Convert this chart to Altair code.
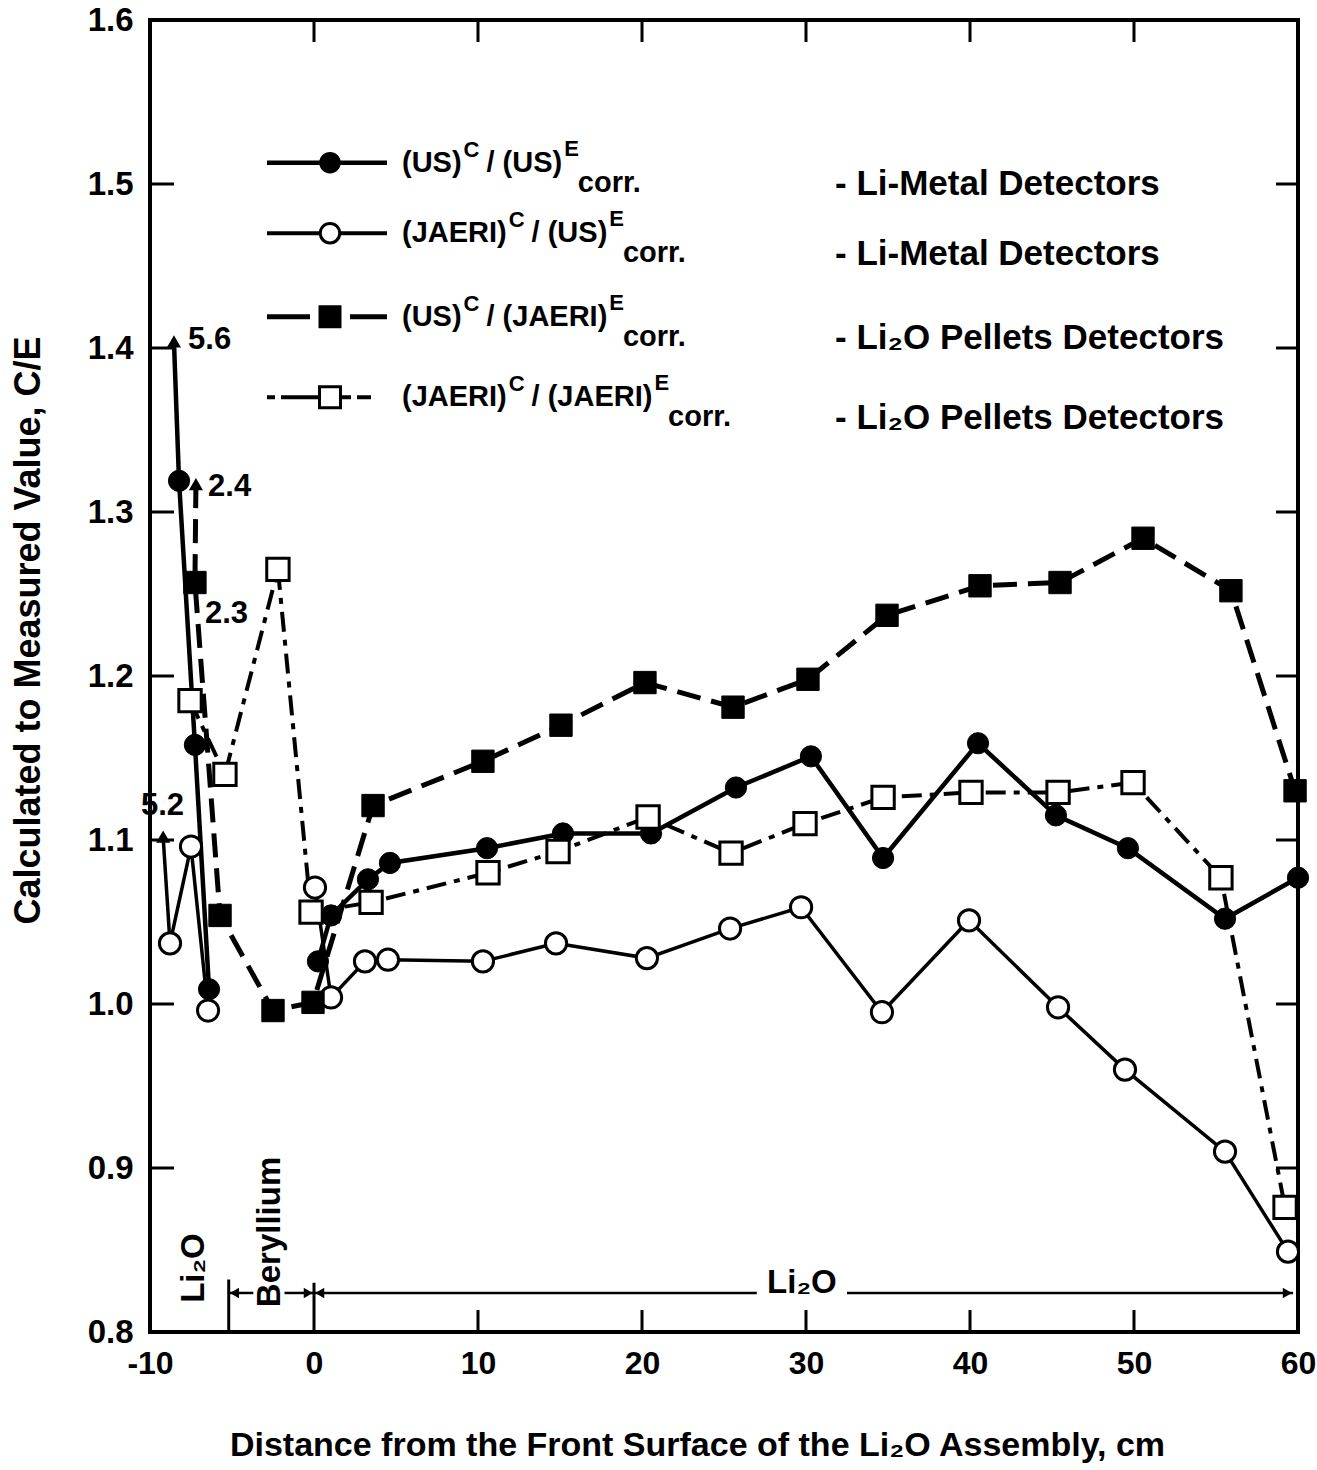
import altair as alt
import pandas as pd

# ---------------- values ----------------
X_TICKS = [-10, 0, 10, 20, 30, 40, 50, 60]
Y_TICKS = [0.8, 0.9, 1.0, 1.1, 1.2, 1.3, 1.4, 1.5, 1.6]
X_INNER_BOTTOM = [10, 20, 30, 40, 50]
X_INNER_TOP = [0, 10, 20, 30, 40, 50]
Y_INNER = [0.9, 1.0, 1.1, 1.2, 1.3, 1.4, 1.5]

# (US)C/(US)E corr. - Li-metal detectors : filled circles, solid
us_us_x = [-8.23, -7.26, -6.40, 0.24, 1.04, 3.29, 4.63, 10.55, 15.18, 20.55, 25.73,
           30.30, 34.70, 40.49, 45.24, 49.63, 55.55, 60.0]
us_us_y = [1.319, 1.158, 1.009, 1.026, 1.054, 1.076, 1.086, 1.095, 1.104, 1.104, 1.132,
           1.151, 1.089, 1.159, 1.115, 1.095, 1.052, 1.077]
# (JAERI)C/(US)E corr. - Li-metal detectors : open circles, solid
jaeri_us_x = [-8.78, -7.50, -6.46, 0.06, 1.04, 3.11, 4.51, 10.30, 14.76, 20.30, 25.37,
              29.70, 34.63, 39.94, 45.37, 49.45, 55.55, 59.39]
jaeri_us_y = [1.037, 1.096, 0.996, 1.071, 1.004, 1.026, 1.027, 1.026, 1.037, 1.028, 1.046,
              1.059, 0.995, 1.051, 0.998, 0.960, 0.910, 0.849]
# (US)C/(JAERI)E corr. - Li2O pellets : filled squares, dashed
us_jaeri_x = [-7.26, -5.73, -2.50, -0.06, 3.60, 10.30, 15.06, 20.18, 25.55, 30.12,
              34.94, 40.61, 45.49, 50.55, 55.91, 59.82]
us_jaeri_y = [1.257, 1.054, 0.996, 1.001, 1.121, 1.148, 1.170, 1.196, 1.181, 1.198,
              1.237, 1.255, 1.257, 1.284, 1.252, 1.130]
# (JAERI)C/(JAERI)E corr. - Li2O pellets : open squares, dash-dot
jaeri_jaeri_x = [-7.56, -5.43, -2.20, -0.18, 3.48, 10.61, 14.88, 20.37, 25.43, 29.94,
                 34.70, 40.06, 45.37, 49.94, 55.30, 59.21]
jaeri_jaeri_y = [1.185, 1.140, 1.265, 1.056, 1.062, 1.080, 1.093, 1.114, 1.092, 1.110,
                 1.126, 1.129, 1.129, 1.135, 1.077, 0.876]

# off-scale values shown as arrows (tip drawn at the clipped position)
off_series = ["us_us", "jaeri_us", "us_jaeri"]
off_value = ["5.6", "5.2", "2.4"]
off_tip_x = [-8.54, -9.20, -7.20]
off_tip_y = [1.404, 1.102, 1.317]
off_label_x = [-7.68, -10.55, -6.46]
off_label_y = [1.405, 1.121, 1.315]
extra_label = ["2.3"]
extra_label_x = [-6.65]
extra_label_y = [1.238]

# region annotations along the bottom
region_div_x = [-5.2, 0.0]
region_div_top = [0.832, 0.830]
region_arrow_y = 0.8238
region_seg_x1 = [-5.2, -1.8, 0.0, 32.5]
region_seg_x2 = [-3.7, 0.0, 27.0, 59.7]
region_head_x = [-4.85, -0.35, 0.35, 59.35]
region_head_shape = ["triangle-left", "triangle-right", "triangle-left", "triangle-right"]
region_text = ["Li₂O", "Beryllium", "Li₂O"]
region_text_x = [-7.3, -2.68, 29.75]
region_text_y = [0.839, 0.861, 0.830]
region_text_angle = [270, 270, 0]

# legend
legend_numer = ["(US)", "(JAERI)", "(US)", "(JAERI)"]
legend_denom = ["(US)", "(US)", "(JAERI)", "(JAERI)"]
legend_desc = ["- Li-Metal Detectors", "- Li-Metal Detectors",
               "- Li₂O Pellets Detectors", "- Li₂O Pellets Detectors"]
legend_y = [1.513, 1.470, 1.419, 1.370]

# ---------------- layout ----------------
W, H = 1148, 1312
LEFT = 150
XMIN, XMAX, YMIN, YMAX = -10, 60, 0.8, 1.6
PXX = W / (XMAX - XMIN)
PXY = H / (YMAX - YMIN)
FONT = "Liberation Sans, Arial, Helvetica, sans-serif"

xscale = alt.Scale(domain=[XMIN, XMAX], nice=False, zero=False)
yscale = alt.Scale(domain=[YMIN, YMAX], nice=False, zero=False)
xaxis = alt.Axis(values=X_TICKS, labelExpr="'' + datum.value", labelFont=FONT,
                 labelFontWeight="bold", labelFontSize=32, labelColor="black",
                 labelPadding=16, labelFlush=False, domain=False, ticks=False, grid=False,
                 title="Distance from the Front Surface of the Li₂O Assembly, cm",
                 titleFont=FONT, titleFontWeight="bold", titleFontSize=34,
                 titleColor="black", titleX=547, titleY=113, titleBaseline="middle")
yaxis = alt.Axis(values=Y_TICKS, format=".1f", labelFont=FONT, labelFontWeight="bold",
                 labelFontSize=33, labelColor="black", labelPadding=17, labelFlush=False,
                 domain=False, ticks=False, grid=False,
                 title="Calculated to Measured Value, C/E", titleFont=FONT,
                 titleFontWeight="bold", titleFontSize=36, titleColor="black",
                 titleAngle=270, titleX=-122, titleY=610, titleAlign="center",
                 titleBaseline="middle")
X = lambda f="x": alt.X(f"{f}:Q", scale=xscale, axis=xaxis)
Y = lambda f="y": alt.Y(f"{f}:Q", scale=yscale, axis=yaxis)

def series_df(xs, ys, key, gap):
    rows = []
    for i, (x, y) in enumerate(zip(xs, ys)):
        rows.append({"x": x, "y": y, "i": i, "seg": (0 if (gap and x < -5) else 1)})
    if key in off_series:
        k = off_series.index(key)
        rows.append({"x": off_tip_x[k], "y": off_tip_y[k], "i": -1, "seg": 0 if gap else 1})
    return pd.DataFrame(rows)

specs = [
    ("us_us", us_us_x, us_us_y, True, dict(strokeWidth=4.5), "circle", True),
    ("jaeri_us", jaeri_us_x, jaeri_us_y, True, dict(strokeWidth=3.5), "circle", False),
    ("us_jaeri", us_jaeri_x, us_jaeri_y, False, dict(strokeWidth=5, strokeDash=[24, 11]), "square", True),
    ("jaeri_jaeri", jaeri_jaeri_x, jaeri_jaeri_y, False, dict(strokeWidth=4, strokeDash=[20, 8, 6, 8]), "square", False),
]

layers = []
point_layers = []
for key, xs, ys, gap, style, shape, filled in specs:
    df = series_df(xs, ys, key, gap)
    layers.append(alt.Chart(df).mark_line(color="black", **style).encode(
        x=X(), y=Y(), detail="seg:N", order="i:Q"))
    pdf = pd.DataFrame({"x": xs, "y": ys})
    size = 450 if shape == "circle" else 500
    if filled:
        pm = alt.Chart(pdf).mark_point(shape=shape, filled=True, fill="black", stroke="black",
                                       strokeWidth=1, size=size, opacity=1)
    else:
        pm = alt.Chart(pdf).mark_point(shape=shape, filled=True, fill="white", stroke="black",
                                       strokeWidth=3, size=size, opacity=1)
    point_layers.append(pm.encode(x=X(), y=Y()))

# arrows for off-scale values
arr_df = pd.DataFrame({"x": off_tip_x, "y": off_tip_y})
arrows = alt.Chart(arr_df).mark_point(shape="triangle-up", filled=True, color="black",
                                      size=200, opacity=1).encode(x=X(), y=Y())
lab_df = pd.DataFrame({"x": off_label_x + extra_label_x, "y": off_label_y + extra_label_y,
                       "t": off_value + extra_label})
labels = alt.Chart(lab_df).mark_text(font=FONT, fontWeight="bold", fontSize=31, color="black",
                                     align="left", baseline="middle").encode(x=X(), y=Y(), text="t:N")

# inward ticks on all four sides
tb = alt.Chart(pd.DataFrame({"x": X_INNER_BOTTOM})).mark_rule(color="black", strokeWidth=3).encode(
    x=X(), y=alt.value(H), y2=alt.value(H - 22))
tt = alt.Chart(pd.DataFrame({"x": X_INNER_TOP})).mark_rule(color="black", strokeWidth=3).encode(
    x=X(), y=alt.value(0), y2=alt.value(22))
tl = alt.Chart(pd.DataFrame({"y": Y_INNER})).mark_rule(color="black", strokeWidth=3).encode(
    y=Y(), x=alt.value(0), x2=alt.value(24))
tr = alt.Chart(pd.DataFrame({"y": Y_INNER})).mark_rule(color="black", strokeWidth=3).encode(
    y=Y(), x=alt.value(W), x2=alt.value(W - 22))

# region annotations
div_df = pd.DataFrame({"x": region_div_x, "y": [YMIN] * 2, "y2": region_div_top})
divs = alt.Chart(div_df).mark_rule(color="black", strokeWidth=3).encode(
    x=X(), y=Y(), y2="y2:Q")
seg_df = pd.DataFrame({"x": region_seg_x1, "x2": region_seg_x2, "y": [region_arrow_y] * 4})
segs = alt.Chart(seg_df).mark_rule(color="black", strokeWidth=2.5).encode(
    x=X(), x2="x2:Q", y=Y())
head_df = pd.DataFrame({"x": region_head_x, "y": [region_arrow_y] * 4, "s": region_head_shape})
heads = alt.Chart(head_df).mark_point(filled=True, color="black", size=110, opacity=1).encode(
    x=X(), y=Y(), shape=alt.Shape("s:N", scale=None))
rt_df = pd.DataFrame({"x": region_text_x, "y": region_text_y, "t": region_text,
                      "a": region_text_angle})
rtexts = alt.Chart(rt_df).mark_text(font=FONT, fontWeight="bold", fontSize=33, color="black",
                                    align="center", baseline="middle").encode(
    x=X(), y=Y(), text="t:N", angle=alt.Angle("a:Q", scale=None))

# legend (fragments chained with Liberation Sans Bold glyph widths)
AB = {'(': 333, ')': 333, 'U': 722, 'S': 667, 'J': 556, 'A': 722, 'E': 667, 'R': 722,
      'I': 278, '/': 278, ' ': 278, 'C': 722, 'c': 556, 'o': 611, 'r': 389, '.': 278}
def tw(s, fs):
    return sum(AB.get(ch, 600) for ch in s) * fs / 1000.0

px2x = lambda px: XMIN + (px - LEFT) / PXX
FS_MAIN, FS_SUP, FS_SUB, FS_DESC = 29, 22, 29, 35
rows = []
for r in range(4):
    y0 = legend_y[r]
    px = 402
    rows.append({"x": px2x(px), "y": y0, "t": legend_numer[r], "fs": FS_MAIN, "f": "m"})
    px += tw(legend_numer[r], FS_MAIN) + 2
    rows.append({"x": px2x(px), "y": y0 + 13 / PXY, "t": "C", "fs": FS_SUP, "f": "m"})
    px += tw("C", FS_SUP) + 7
    s = "/ " + legend_denom[r]
    rows.append({"x": px2x(px), "y": y0, "t": s, "fs": FS_MAIN, "f": "m"})
    px += tw(s, FS_MAIN) + 2
    rows.append({"x": px2x(px), "y": y0 + 14 / PXY, "t": "E", "fs": FS_SUP, "f": "m"})
    px += tw("E", FS_SUP) - 1
    rows.append({"x": px2x(px), "y": y0 - 20 / PXY, "t": "corr.", "fs": FS_SUB, "f": "m"})
    rows.append({"x": px2x(835), "y": y0 - 21 / PXY, "t": legend_desc[r], "fs": FS_DESC, "f": "d"})
leg_df = pd.DataFrame(rows)
leg_text = alt.Chart(leg_df).mark_text(
    font=FONT, fontWeight="bold", color="black", align="left", baseline="middle").encode(
    x=X(), y=Y(), text="t:N", size=alt.Size("fs:Q", scale=None))

LX1, LX2, LXM = px2x(267), px2x(387), px2x(330)
leg_line_specs = [dict(strokeWidth=4.5), dict(strokeWidth=4),
                  dict(strokeWidth=5, strokeDash=[43, 40, 40]),
                  dict(strokeWidth=4, strokeDash=[8, 6, 70, 6, 14, 20])]
leg_layers = []
for r in range(4):
    ldf = pd.DataFrame({"x": [LX1], "x2": [LX2], "y": [legend_y[r]]})
    leg_layers.append(alt.Chart(ldf).mark_rule(color="black", **leg_line_specs[r]).encode(
        x=X(), x2="x2:Q", y=Y()))
    _, _, _, _, _, shape, filled = specs[r]
    mdf = pd.DataFrame({"x": [LXM], "y": [legend_y[r]]})
    size = 380 if shape == "circle" else 440
    if filled:
        m = alt.Chart(mdf).mark_point(shape=shape, filled=True, fill="black", stroke="black",
                                      size=size, opacity=1)
    else:
        m = alt.Chart(mdf).mark_point(shape=shape, filled=True, fill="white", stroke="black",
                                      strokeWidth=3, size=size, opacity=1)
    leg_layers.append(m.encode(x=X(), y=Y()))

chart = alt.layer(
    *layers, arrows, *point_layers, labels, tb, tt, tl, tr, divs, segs, heads, rtexts,
    *leg_layers, leg_text
).properties(
    width=W, height=H,
    padding={"left": LEFT, "top": 20, "right": 1317 - LEFT - W, "bottom": 138},
    autosize=alt.AutoSizeParams(type="none"),
    background="white",
).configure_view(stroke="black", strokeWidth=4)

chart.save("out.html", embed_options={"renderer": "svg", "actions": False})
